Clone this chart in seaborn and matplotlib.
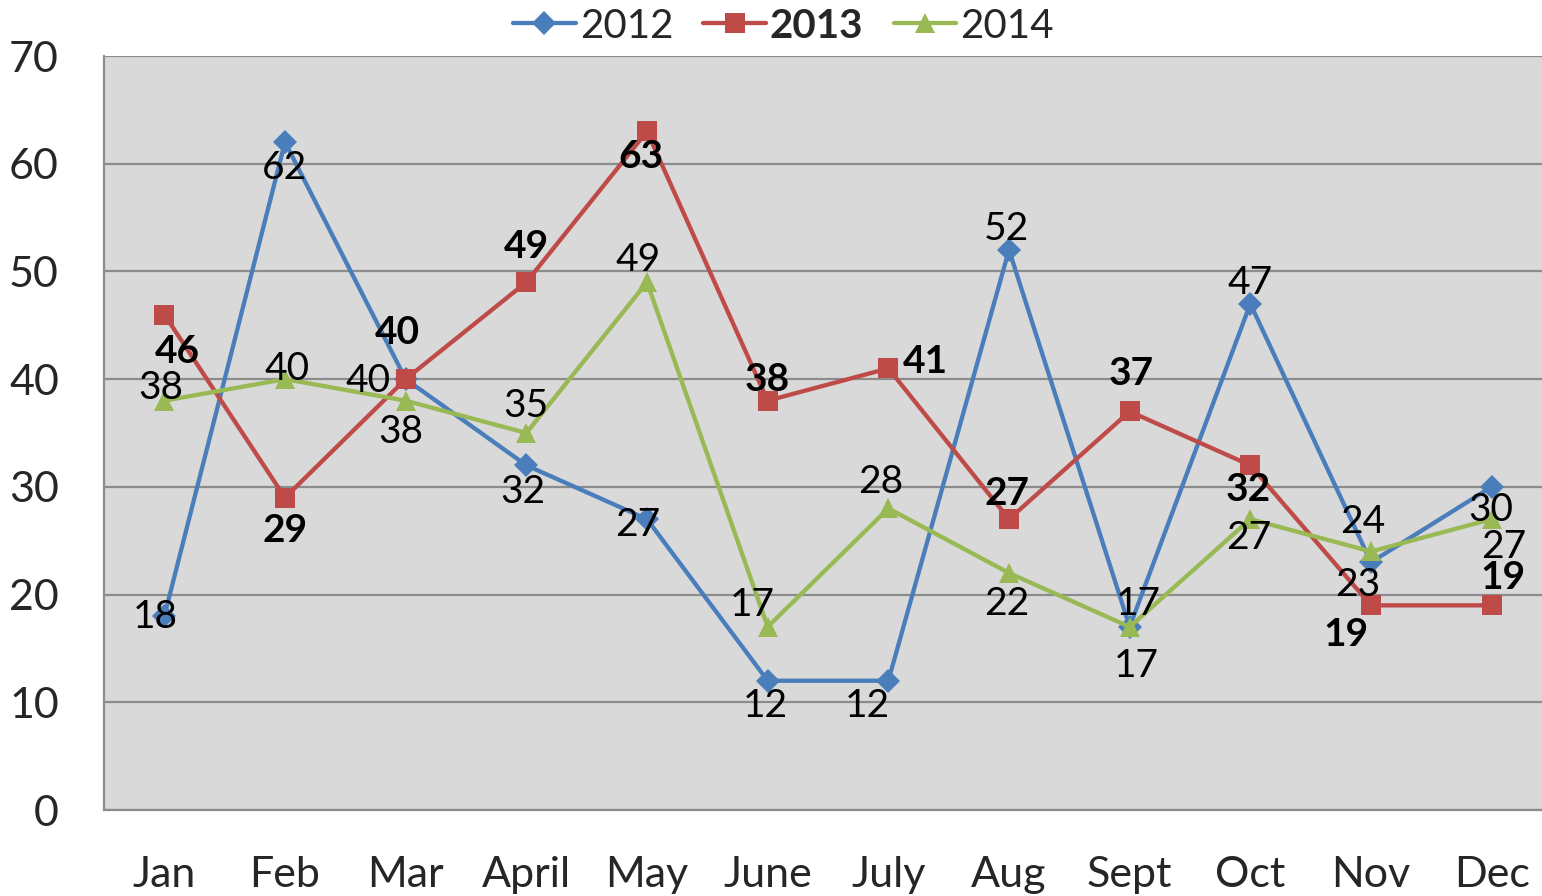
import matplotlib
matplotlib.use("Agg")
import matplotlib.pyplot as plt
import seaborn as sns
import pandas as pd
import numpy as np
from matplotlib.lines import Line2D

months = ["Jan", "Feb", "Mar", "April", "May", "June", "July", "Aug", "Sept", "Oct", "Nov", "Dec"]
s2012 = [18, 62, 40, 32, 27, 12, 12, 52, 17, 47, 23, 30]
s2013 = [46, 29, 40, 49, 63, 38, 41, 27, 37, 32, 19, 19]
s2014 = [38, 40, 38, 35, 49, 17, 28, 22, 17, 27, 24, 27]
series_names = ["2012", "2013", "2014"]
yticks = [0, 10, 20, 30, 40, 50, 60, 70]

# label offsets in pixels (dx, dy) relative to each point, y up
off2012 = [(-9, -1), (0, -26), (-38, -2), (-3, -27), (-9, -6), (-2, -25), (-21, -25),
           (-3, 21), (9, 23), (0, 21), (-13, -23), (-1, -23)]
off2013 = [(13, -37), (0, -33), (-8, 47), (0, 36), (-6, -25), (0, 21), (37, 7),
           (-2, 26), (2, 38), (-2, -24), (-25, -29), (11, 28)]
off2014 = [(-4, 13), (2, 10), (-5, -31), (0, 27), (-9, 22), (-15, 22), (-8, 26),
           (-2, -31), (7, -39), (-2, -19), (-8, 29), (12, -28)]

df = pd.DataFrame({
    "idx": list(range(12)) * 3,
    "value": s2012 + s2013 + s2014,
    "year": [series_names[0]] * 12 + [series_names[1]] * 12 + [series_names[2]] * 12,
})

sns.set_theme(style="white")
plt.rcParams["font.family"] = ["Lato", "DejaVu Sans"]

colors = {"2012": "#4A7EBB", "2013": "#BE4B48", "2014": "#98B954"}
markers = {"2012": "D", "2013": "s", "2014": "^"}
msizes = {"2012": 12.5, "2013": 14, "2014": 14.5}

fig = plt.figure(figsize=(15.42, 8.96), dpi=100)
ax = fig.add_axes([104 / 1542, 1 - 810 / 896, 1448 / 1542, 754 / 896])
ax.set_facecolor("#D9D9D9")

sns.lineplot(data=df, x="idx", y="value", hue="year", style="year",
             palette=colors, markers=markers, dashes=False, linewidth=3.1,
             markersize=11, markeredgewidth=0, ax=ax, legend=False, zorder=3)
for line, name in zip(ax.lines, series_names):
    line.set_markersize(msizes[name])

ax.set_xlim(-0.5, 11.5)
ax.set_ylim(0, 70)
ax.set_yticks(yticks)
ax.set_yticklabels([str(t) for t in yticks], fontsize=31)
ax.set_xticks(range(12))
ax.set_xticklabels(months, fontsize=31)
ax.set_xticks(np.arange(-0.5, 12, 1), minor=True)
ax.tick_params(axis="x", which="major", length=0, pad=33)
ax.tick_params(axis="x", which="minor", length=11, width=1.5, color="#8C8C8C", direction="out")
ax.tick_params(axis="y", which="major", length=11.5, width=1.5, color="#8C8C8C", direction="out", pad=21)
ax.set_xlabel("")
ax.set_ylabel("")

ax.grid(axis="y", color="#8C8C8C", linewidth=1.6, zorder=0)
ax.set_axisbelow(True)
for s in ["top", "right"]:
    ax.spines[s].set_visible(False)
for s in ["left", "bottom"]:
    ax.spines[s].set_color("#8C8C8C")
    ax.spines[s].set_linewidth(1.6)

for vals, offs, weight in [(s2012, off2012, "normal"), (s2013, off2013, "bold"), (s2014, off2014, "normal")]:
    for i, (v, (dx, dy)) in enumerate(zip(vals, offs)):
        ax.annotate(str(v), (i, v), xytext=(dx, dy), textcoords="offset pixels",
                    ha="center", va="center", fontsize=28, fontweight=weight,
                    color="black", zorder=5, annotation_clip=False)

handles = [Line2D([0], [0], color=colors[n], marker=markers[n], linewidth=3.1,
                  markersize=msizes[n], markeredgewidth=0) for n in series_names]
leg = fig.legend(handles, series_names, loc="upper center", bbox_to_anchor=(0.508, 1.032),
                 ncol=3, frameon=False, fontsize=29, handlelength=1.55,
                 handletextpad=0.1, columnspacing=0.75)
for t in leg.get_texts():
    if t.get_text() == "2013":
        t.set_fontweight("bold")

fig.savefig("out.png", dpi=100)
